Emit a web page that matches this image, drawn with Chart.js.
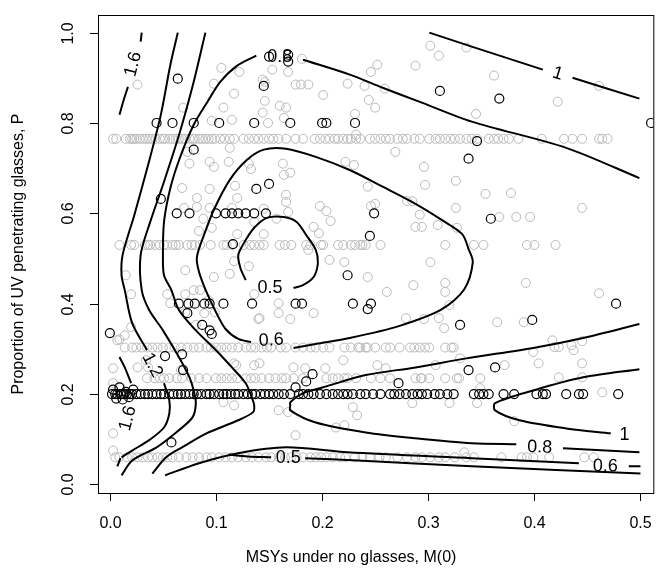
<!DOCTYPE html>
<html>
<head>
<meta charset="utf-8">
<script src="https://cdn.jsdelivr.net/npm/chart.js@4.4.1/dist/chart.umd.min.js"></script>
<style>
  body { margin: 0; background: #fff; }
  canvas { display: block; }
</style>
</head>
<body>
<canvas id="c" width="659" height="580"></canvas>
<script>
// axis ticks
const xTicks = [0, 0.1, 0.2, 0.3, 0.4, 0.5];
const yTicks = [0, 0.2, 0.4, 0.6, 0.8, 1.0];
const xTitle = 'MSYs under no glasses, M(0)';
const yTitle = 'Proportion of UV penetrating glasses, P';

// gray points lying on rows of equal P (x values per row)
const grayRow765 = [0.003,0.006,0.015,0.019,0.021,0.023,0.025,0.028,0.031,0.034,0.037,0.040,0.043,0.047,0.050,0.052,0.056,0.059,0.062,0.065,0.068,0.071,0.075,0.078,0.080,0.084,0.087,0.090,0.093,0.096,0.099,0.104,0.108,0.113,0.117,0.126,0.131,0.136,0.140,0.145,0.150,0.154,0.159,0.166,0.175,0.182,0.193,0.198,0.203,0.207,0.212,0.215,0.220,0.224,0.227,0.232,0.236,0.245,0.250,0.255,0.260,0.264,0.271,0.276,0.280,0.287,0.292,0.301,0.307,0.311,0.316,0.321,0.325,0.330,0.336,0.341,0.346,0.357,0.362,0.366,0.371,0.376,0.385,0.407,0.428,0.436,0.445,0.461,0.464,0.469];
const grayRow530 = [0.009,0.020,0.023,0.033,0.036,0.038,0.043,0.047,0.051,0.054,0.059,0.062,0.065,0.073,0.077,0.080,0.085,0.095,0.107,0.110,0.115,0.126,0.132,0.136,0.141,0.145,0.160,0.165,0.171,0.185,0.189,0.199,0.201,0.215,0.220,0.227,0.231,0.236,0.238,0.241,0.255,0.316,0.343,0.352,0.393,0.400,0.420];
const grayRow303 = [0.014,0.021,0.025,0.030,0.035,0.040,0.045,0.050,0.056,0.061,0.067,0.073,0.079,0.084,0.091,0.095,0.100,0.105,0.110,0.115,0.121,0.128,0.133,0.137,0.143,0.148,0.152,0.161,0.166,0.175,0.182,0.189,0.194,0.201,0.207,0.221,0.227,0.234,0.236,0.241,0.243,0.250,0.260,0.264,0.273,0.283,0.287,0.292,0.297,0.301,0.316,0.322,0.324];
const grayRow235 = [0.035,0.042,0.047,0.051,0.056,0.063,0.068,0.077,0.084,0.091,0.100,0.105,0.110,0.115,0.120,0.128,0.133,0.137,0.143,0.150,0.156,0.162,0.166,0.173,0.182,0.204,0.210,0.215,0.221,0.224,0.232,0.246,0.255,0.264,0.288,0.293,0.294,0.301,0.316,0.327,0.329];
const grayRow060 = [0.005,0.009,0.016,0.021,0.026,0.031,0.036,0.040,0.045,0.050,0.054,0.059,0.065,0.072,0.078,0.084,0.091,0.096,0.103,0.109,0.115,0.121,0.128,0.134,0.140,0.147,0.152,0.159,0.165,0.171,0.176,0.182,0.189,0.194,0.199,0.204,0.210,0.217,0.222,0.231,0.238,0.245,0.254,0.260,0.271,0.280,0.288,0.294,0.302,0.310,0.316,0.325,0.336,0.343,0.369,0.388,0.393,0.399,0.414,0.447,0.456];
const grayRowP = [0.765, 0.530, 0.303, 0.235, 0.060];

// other gray points [M0, P]
const grayScatter = [
  [0.026,0.885],[0.105,0.922],[0.122,0.913],[0.144,0.896],[0.153,0.918],[0.098,0.887],[0.117,0.865],[0.146,0.849],[0.160,0.838],[0.069,0.834],[0.107,0.834],[0.144,0.823],[0.115,0.807],[0.096,0.805],[0.149,0.800],[0.164,0.811],[0.146,0.891],
  [0.113,0.745],[0.073,0.736],[0.075,0.710],[0.094,0.714],[0.098,0.703],[0.112,0.714],[0.131,0.710],[0.133,0.698],[0.163,0.710],[0.164,0.685],
  [0.068,0.656],[0.094,0.654],[0.118,0.661],[0.082,0.634],[0.120,0.634],[0.070,0.612],[0.082,0.614],[0.094,0.612],[0.088,0.588],[0.115,0.612],[0.145,0.610],[0.157,0.588],[0.084,0.561],[0.096,0.568],[0.120,0.554],[0.145,0.554],[0.136,0.581],
  [0.181,0.942],[0.168,0.913],[0.252,0.929],[0.246,0.913],[0.302,0.971],[0.310,0.949],[0.288,0.927],[0.336,0.967],[0.175,0.885],[0.180,0.885],[0.187,0.885],[0.224,0.887],[0.240,0.882],[0.259,0.876],[0.201,0.862],[0.244,0.851],[0.250,0.834],[0.166,0.834],[0.231,0.820],[0.232,0.774],
  [0.269,0.736],[0.222,0.714],[0.230,0.707],[0.170,0.690],[0.296,0.703],[0.326,0.672],[0.297,0.663],[0.243,0.659],[0.166,0.641],[0.198,0.616],[0.204,0.605],[0.208,0.583],[0.246,0.616],[0.250,0.621],[0.280,0.627],[0.285,0.627],[0.292,0.597],[0.326,0.612],[0.192,0.570],[0.197,0.556],[0.288,0.570],[0.294,0.570],[0.309,0.574],[0.327,0.568],[0.166,0.625],[0.168,0.603],
  [0.362,0.905],[0.345,0.820],[0.422,0.847],[0.461,0.882],[0.354,0.643],[0.378,0.645],[0.445,0.612],[0.367,0.592],[0.383,0.592],[0.396,0.592],
  [0.015,0.463],[0.071,0.474],[0.098,0.459],[0.113,0.466],[0.117,0.494],[0.131,0.483],[0.020,0.421],[0.054,0.421],[0.071,0.421],[0.079,0.430],[0.085,0.430],[0.093,0.408],[0.057,0.401],[0.071,0.381],[0.089,0.379],[0.099,0.381],[0.159,0.401],[0.159,0.379],[0.141,0.368],[0.014,0.330],[0.009,0.321],[0.020,0.348],[0.034,0.275],[0.026,0.259],[0.117,0.268],[0.136,0.264],[0.141,0.268],[0.003,0.224],[0.010,0.215],[0.159,0.164],[0.003,0.113],[0.003,0.075],
  [0.136,0.421],[0.170,0.366],[0.140,0.366],[0.081,0.353],[0.007,0.319],[0.003,0.257],[0.036,0.259],[0.067,0.253],[0.119,0.264],[0.173,0.259],[0.107,0.182],[0.117,0.175],[0.168,0.160],[0.175,0.109],
  [0.187,0.519],[0.207,0.497],[0.221,0.492],[0.243,0.459],[0.302,0.492],[0.261,0.426],[0.286,0.441],[0.316,0.446],[0.316,0.426],[0.192,0.379],[0.279,0.368],[0.296,0.366],[0.310,0.368],[0.315,0.346],[0.320,0.397],[0.220,0.275],[0.184,0.257],[0.203,0.257],[0.252,0.264],[0.260,0.257],[0.307,0.264],[0.330,0.279],[0.285,0.180],[0.320,0.180],[0.229,0.171],[0.233,0.153],[0.213,0.126],[0.221,0.131],[0.334,0.071],
  [0.392,0.446],[0.461,0.423],[0.365,0.359],[0.390,0.359],[0.417,0.319],[0.419,0.304],[0.423,0.304],[0.435,0.308],[0.437,0.297],[0.445,0.317],[0.399,0.293],[0.404,0.268],[0.445,0.268],[0.372,0.264],[0.349,0.235],[0.423,0.237],[0.445,0.237],[0.349,0.213],[0.346,0.180],[0.464,0.204],[0.381,0.140]
];

// black points on rows of equal P
const blackRow80 = [0.044,0.059,0.079,0.103,0.136,0.170,0.200,0.204,0.231,0.510];
const blackRow60 = [0.063,0.075,0.100,0.109,0.115,0.121,0.128,0.136,0.147,0.249];
const blackRow40 = [0.065,0.074,0.080,0.089,0.094,0.107,0.134,0.175,0.181,0.229,0.246,0.477];
const blackRow20 = [0.002,0.005,0.007,0.010,0.013,0.016,0.019,0.021,0.025,0.029,0.033,0.036,0.040,0.044,0.048,0.051,0.056,0.060,0.064,0.067,0.071,0.075,0.079,0.082,0.086,0.091,0.094,0.098,0.103,0.107,0.110,0.114,0.118,0.121,0.126,0.130,0.134,0.137,0.142,0.146,0.150,0.154,0.159,0.164,0.170,0.178,0.182,0.187,0.192,0.198,0.204,0.210,0.215,0.220,0.224,0.229,0.236,0.241,0.248,0.255,0.264,0.268,0.273,0.279,0.285,0.290,0.294,0.299,0.306,0.311,0.318,0.324,0.343,0.348,0.352,0.357,0.371,0.381,0.402,0.408,0.411,0.430,0.442,0.446,0.479];
const blackRowP = [0.80, 0.60, 0.40, 0.20];

// other black points [M0, P]
const blackScatter = [
  [0.150,0.947],[0.168,0.951],[0.168,0.936],[0.064,0.898],[0.145,0.882],[0.311,0.871],[0.367,0.854],
  [0.079,0.741],[0.346,0.760],[0.338,0.721],[0.138,0.654],[0.150,0.665],[0.048,0.632],[0.359,0.588],
  [0.245,0.550],[0.116,0.532],[0.224,0.463],[0.073,0.379],[0.243,0.388],[0.087,0.353],[0.330,0.353],
  [0.398,0.364],[0.094,0.341],[0.096,0.333],[0.000,0.335],[0.052,0.284],[0.068,0.288],[0.069,0.253],
  [0.338,0.253],[0.363,0.259],[0.191,0.244],[0.185,0.228],[0.175,0.215],[0.272,0.224],[0.058,0.093],
  [0.003,0.210],[0.006,0.190],[0.009,0.215],[0.012,0.188],[0.015,0.205],[0.018,0.193],[0.022,0.210],[0.011,0.200]
];

// contour lines, broken where R put the labels
const c16Top1 = [[0.030,1.000],[0.029,0.980]];
const c16Top2 = [[0.017,0.880],[0.013,0.851],[0.009,0.818]];
const c16Low1 = [[0.009,0.282],[0.014,0.259],[0.020,0.224]];
const c16Low2 = [[0.010,0.058],[0.007,0.040]];
const c12a = [[0.064,1.000],[0.057,0.929],[0.048,0.818],[0.036,0.707],[0.023,0.596],[0.012,0.508],[0.011,0.463],[0.014,0.430],[0.021,0.357],[0.035,0.297]];
const c12b = [[0.051,0.224],[0.056,0.186],[0.056,0.157],[0.051,0.126],[0.037,0.098],[0.021,0.075],[0.011,0.060]];
const c10Left = [[0.090,1.000],[0.079,0.891],[0.066,0.780],[0.051,0.670],[0.038,0.581],[0.029,0.508],[0.030,0.430],[0.037,0.386],[0.050,0.341],[0.065,0.282],[0.075,0.237],[0.079,0.208],[0.081,0.180],[0.078,0.149],[0.065,0.120],[0.044,0.082],[0.021,0.053],[0.011,0.020]];
const c08Left = [[0.138,0.949],[0.120,0.927],[0.104,0.891],[0.092,0.847],[0.079,0.796],[0.066,0.723],[0.057,0.656],[0.051,0.581],[0.050,0.508],[0.051,0.463],[0.058,0.430],[0.065,0.386],[0.081,0.341],[0.100,0.297],[0.115,0.259],[0.128,0.224],[0.134,0.191],[0.136,0.175],[0.135,0.160],[0.121,0.142],[0.091,0.113],[0.068,0.082],[0.053,0.060],[0.040,0.024]];
const c08Top = [[0.182,0.940],[0.226,0.907],[0.257,0.878],[0.294,0.845],[0.341,0.803],[0.430,0.745],[0.499,0.678]];
const c10Top1 = [[0.301,1.000],[0.341,0.969],[0.408,0.918]];
const c10Top2 = [[0.436,0.900],[0.499,0.854]];
const c06Loop = [[0.173,0.302],[0.194,0.311],[0.226,0.324],[0.273,0.351],[0.313,0.388],[0.334,0.432],[0.342,0.492],[0.338,0.521],[0.332,0.554],[0.313,0.585],[0.288,0.621],[0.257,0.659],[0.226,0.696],[0.194,0.725],[0.166,0.743],[0.145,0.741],[0.129,0.718],[0.113,0.674],[0.098,0.608],[0.089,0.554],[0.082,0.503],[0.084,0.470],[0.091,0.426],[0.100,0.381],[0.109,0.344],[0.121,0.322],[0.133,0.315]];
const c05Loop = [[0.173,0.435],[0.182,0.441],[0.192,0.459],[0.196,0.490],[0.194,0.519],[0.185,0.552],[0.176,0.581],[0.164,0.592],[0.148,0.590],[0.136,0.568],[0.127,0.537],[0.121,0.508],[0.123,0.479],[0.128,0.452]];
const c08Right1 = [[0.499,0.355],[0.446,0.324],[0.399,0.302],[0.336,0.279],[0.288,0.259],[0.241,0.242],[0.201,0.215],[0.182,0.202],[0.170,0.182],[0.170,0.175],[0.170,0.164],[0.194,0.137],[0.241,0.115],[0.288,0.102],[0.341,0.091],[0.383,0.089]];
const c08Right2 = [[0.427,0.080],[0.499,0.071]];
const c10Right = [[0.499,0.255],[0.446,0.237],[0.399,0.208],[0.363,0.180],[0.363,0.164],[0.386,0.142],[0.430,0.124],[0.472,0.113]];
const c06Low1 = [[0.052,0.020],[0.084,0.047],[0.121,0.069],[0.166,0.082],[0.224,0.071],[0.341,0.058],[0.442,0.047]];
const c06Low2 = [[0.489,0.040],[0.500,0.040]];
const c05Low1 = [[0.112,0.066],[0.130,0.062],[0.152,0.060]];
const c05Low2 = [[0.184,0.058],[0.234,0.053],[0.341,0.040],[0.500,0.024]];

// contour labels: text, M0, P, angle
const contourLabels = [
  ['1.6', 0.022, 0.930, -76],
  ['1.2', 0.040, 0.264, 62],
  ['1.6', 0.017, 0.146, -75],
  ['0.8', 0.160, 0.945, 0],
  ['1', 0.422, 0.909, 17],
  ['0.6', 0.152, 0.319, -3],
  ['0.5', 0.151, 0.435, 0],
  ['0.8', 0.405, 0.082, 2],
  ['1', 0.485, 0.109, 0],
  ['0.6', 0.467, 0.040, 1],
  ['0.5', 0.168, 0.058, 0]
];

const FONT = '"Liberation Sans", Arial, Helvetica, sans-serif';
const toXY = arr => arr.map(p => ({ x: p[0], y: p[1] }));

const contourSets = [c16Top1, c16Top2, c16Low1, c16Low2, c12a, c12b, c10Left, c08Left, c08Top,
  c10Top1, c10Top2, c06Loop, c05Loop, c08Right1, c08Right2, c10Right, c06Low1, c06Low2, c05Low1, c05Low2]
  .map(a => ({
    data: toXY(a),
    showLine: true,
    borderColor: '#000',
    borderWidth: 2,
    pointRadius: 0,
    tension: 0.3,
    fill: false
  }));

const blackPts = toXY(blackScatter);
[blackRow80, blackRow60, blackRow40, blackRow20].forEach((xs, i) => {
  xs.forEach(x => blackPts.push({ x: x, y: blackRowP[i] }));
});
const grayPts = toXY(grayScatter);
[grayRow765, grayRow530, grayRow303, grayRow235, grayRow060].forEach((xs, i) => {
  xs.forEach(x => grayPts.push({ x: x, y: grayRowP[i] }));
});

const pointStyle = (color, w) => ({
  pointRadius: 4.5,
  pointBorderWidth: w,
  pointBorderColor: color,
  pointBackgroundColor: 'rgba(0,0,0,0)',
  showLine: false
});

// white page, box, axes and labels drawn in R style
const rAxes = {
  id: 'rAxes',
  beforeDraw(chart) {
    const c = chart.ctx;
    c.save();
    c.fillStyle = '#fff';
    c.fillRect(0, 0, chart.width, chart.height);
    c.restore();
  },
  afterDatasetsDraw(chart) {
    const c = chart.ctx, xs = chart.scales.x, ys = chart.scales.y;
    c.save();
    c.fillStyle = '#000';
    c.font = '18px ' + FONT;
    c.textAlign = 'center';
    c.textBaseline = 'middle';
    contourLabels.forEach(l => {
      c.save();
      c.translate(xs.getPixelForValue(l[1]), ys.getPixelForValue(l[2]));
      c.rotate(l[3] * Math.PI / 180);
      c.fillText(l[0], 0, 0);
      c.restore();
    });
    c.restore();
  },
  afterDraw(chart) {
    const c = chart.ctx, a = chart.chartArea, xs = chart.scales.x, ys = chart.scales.y;
    c.save();
    c.strokeStyle = '#000';
    c.lineWidth = 1;
    c.strokeRect(a.left + 0.5, a.top + 0.5, a.right - a.left, a.bottom - a.top);
    c.fillStyle = '#000';
    c.font = '16px ' + FONT;
    c.textAlign = 'center';
    c.textBaseline = 'middle';
    xTicks.forEach(v => {
      const px = Math.round(xs.getPixelForValue(v)) + 0.5;
      c.beginPath();
      c.moveTo(px, a.bottom);
      c.lineTo(px, a.bottom + 8);
      c.stroke();
      c.fillText(v.toFixed(1), px, a.bottom + 31);
    });
    yTicks.forEach(v => {
      const py = Math.round(ys.getPixelForValue(v)) + 0.5;
      c.beginPath();
      c.moveTo(a.left, py);
      c.lineTo(a.left - 8, py);
      c.stroke();
      c.save();
      c.translate(a.left - 29, py);
      c.rotate(-Math.PI / 2);
      c.fillText(v.toFixed(1), 0, 0);
      c.restore();
    });
    c.fillText(xTitle, (a.left + 600) / 2 + 2, a.bottom + 65);
    c.save();
    c.translate(19, (a.top + a.bottom) / 2);
    c.rotate(-Math.PI / 2);
    c.fillText(yTitle, 0, 0);
    c.restore();
    c.restore();
  }
};

new Chart(document.getElementById('c'), {
  type: 'scatter',
  data: {
    datasets: contourSets.concat([
      Object.assign({ data: blackPts }, pointStyle('#000', 1.2)),
      Object.assign({ data: grayPts }, pointStyle('#bbbbbb', 1))
    ])
  },
  options: {
    responsive: false,
    animation: false,
    devicePixelRatio: 1,
    layout: { padding: { left: 98, right: 1, top: 15, bottom: 87 } },
    plugins: { legend: { display: false }, tooltip: { enabled: false } },
    scales: {
      x: { type: 'linear', min: -0.0112, max: 0.5121, display: false },
      y: { type: 'linear', min: -0.019, max: 1.039, display: false }
    }
  },
  plugins: [rAxes]
});
</script>
</body>
</html>
